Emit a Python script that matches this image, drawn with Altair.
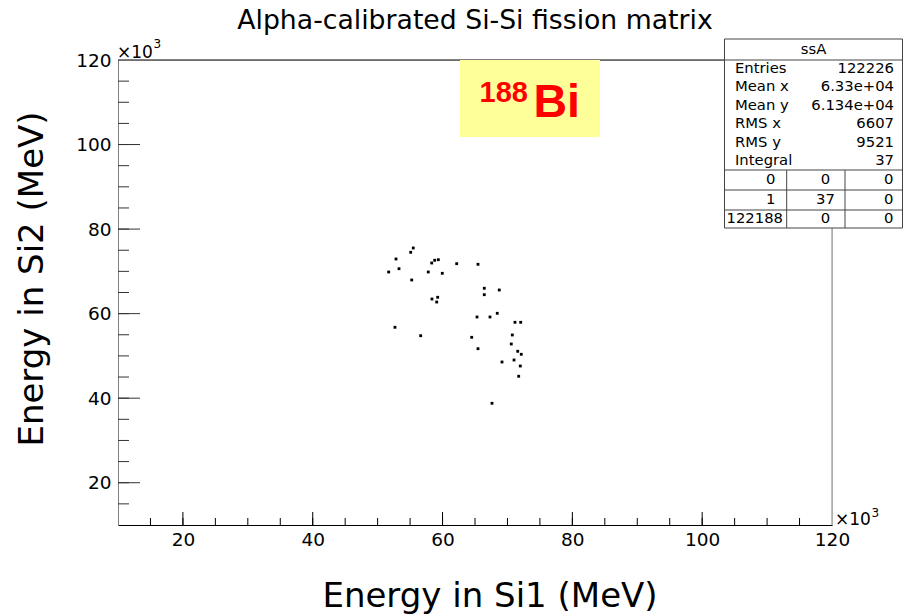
import altair as alt
import pandas as pd

# ---- data (x10^3 MeV) ----
x_si1 = [55.49, 55.09, 52.83, 53.29, 51.70, 55.25, 58.33, 58.79, 59.35, 57.80,
         59.96, 62.18, 65.46, 66.43, 66.43, 68.74, 58.37, 59.25, 59.10, 68.43,
         65.31, 67.31, 71.16, 72.04, 52.67, 56.63, 64.49, 70.75, 70.59, 65.46,
         71.58, 72.13, 69.16, 71.01, 71.98, 71.73, 67.62]
y_si2 = [75.53, 74.51, 72.93, 70.63, 69.85, 67.96, 71.98, 72.62, 72.76, 69.85,
         69.54, 71.82, 71.67, 66.00, 64.48, 65.59, 63.46, 63.87, 62.75, 60.08,
         59.21, 59.21, 57.95, 57.95, 56.77, 54.78, 54.40, 54.95, 52.82, 51.71,
         51.09, 50.38, 48.56, 49.03, 47.61, 45.18, 38.79]

major_ticks = [20, 40, 60, 80, 100, 120]
minor_ticks = [15, 20, 25, 30, 35, 40, 45, 50, 55, 60, 65, 70, 75, 80, 85, 90, 95, 100, 105, 110, 115]
long_ticks = [20, 40, 60, 80, 100]

stat_names = ["Entries", "Mean x", "Mean y", "RMS x", "RMS y", "Integral"]
stat_values = ["122226", "6.33e+04", "6.134e+04", "6607", "9521", "37"]
table_rows = [["0", "0", "0"], ["1", "37", "0"], ["122188", "0", "0"]]

title_text = "Alpha-calibrated Si-Si fission matrix"
x_title = "Energy in Si1 (MeV)"
y_title = "Energy in Si2 (MeV)"

F = "DejaVu Sans"
W, H = 714, 465

pts = pd.DataFrame({"x": x_si1, "y": y_si2})
one = pd.DataFrame({"k": [0]})
xs = alt.Scale(domain=[10, 120], nice=False, zero=False)
ys = alt.Scale(domain=[10, 120], nice=False, zero=False)

x_axis = alt.Axis(
    values=major_ticks, title=None, ticks=False, tickSize=0, grid=False,
    labelFont=F, labelFontSize=18.5, labelColor="black", labelPadding=5,
    labelFlush=False, labelOverlap=False, domainColor="black", domainWidth=1)
y_axis = alt.Axis(
    values=major_ticks, title=None, ticks=False, tickSize=0, grid=False,
    labelFont=F, labelFontSize=18.5, labelColor="black", labelPadding=7,
    labelFlush=False, labelOverlap=False, domainColor="#808080", domainWidth=1)


def txt(text, x, y, size, align="left", baseline="alphabetic", font=F,
        color="black", weight="normal", angle=0):
    return alt.Chart(one).mark_text(
        text=text, align=align, baseline=baseline, font=font, fontSize=size,
        color=color, fontWeight=weight, angle=angle
    ).encode(x=alt.value(x), y=alt.value(y))


def rule(x1, x2, y1, y2, color="black", w=1):
    return alt.Chart(one).mark_rule(color=color, strokeWidth=w).encode(
        x=alt.value(x1), x2=alt.value(x2), y=alt.value(y1), y2=alt.value(y2))


points = alt.Chart(pts).mark_square(size=8, color="black", opacity=1).encode(
    x=alt.X("x:Q", scale=xs, axis=x_axis),
    y=alt.Y("y:Q", scale=ys, axis=y_axis),
)

xminor = alt.Chart(pd.DataFrame({"v": minor_ticks})).mark_rule(color="black").encode(
    x=alt.X("v:Q", scale=xs, axis=x_axis), y=alt.value(H), y2=alt.value(H - 7))
xmajor = alt.Chart(pd.DataFrame({"v": long_ticks})).mark_rule(color="black").encode(
    x=alt.X("v:Q", scale=xs, axis=x_axis), y=alt.value(H), y2=alt.value(H - 13))
yminor = alt.Chart(pd.DataFrame({"v": minor_ticks})).mark_rule(color="#333333").encode(
    y=alt.Y("v:Q", scale=ys, axis=y_axis), x=alt.value(0), x2=alt.value(11))
ymajor = alt.Chart(pd.DataFrame({"v": long_ticks})).mark_rule(color="#333333").encode(
    y=alt.Y("v:Q", scale=ys, axis=y_axis), x=alt.value(0), x2=alt.value(22))

layers = [points, xminor, xmajor, yminor, ymajor,
          rule(0, W, 0, 0, "black"),
          rule(W, W, 0, H, "#808080")]

# yellow label box
layers.append(alt.Chart(one).mark_rect(fill="#FFFF99").encode(
    x=alt.value(342), x2=alt.value(482), y=alt.value(0), y2=alt.value(77)))
layers.append(txt("188", 361.5, 41.7, 29, font="Liberation Sans", color="#FF0000", weight="bold"))
layers.append(txt("Bi", 415.5, 56.7, 46.5, font="Liberation Sans", color="#FF0000", weight="bold"))

# stats box
bx0, bx1, by0, by1 = 606.5, 784.5, -21, 168
layers.append(alt.Chart(one).mark_rect(fill="white", stroke="#444444", strokeWidth=1).encode(
    x=alt.value(bx0), x2=alt.value(bx1), y=alt.value(by0), y2=alt.value(by1)))
layers.append(rule(bx0, bx1, 0, 0, "#444444"))
for yy in [110, 130, 150]:
    layers.append(rule(bx0, bx1, yy, yy, "#444444"))
layers.append(rule(668.7, 668.7, 110, by1, "#444444"))
layers.append(rule(727, 727, 110, by1, "#444444"))
layers.append(txt("ssA", (bx0 + bx1) / 2, -10.5, 14.8, align="center", baseline="middle"))
row_y = [8.5, 27, 45.5, 64, 82.5, 101]
for name, val, ry in zip(stat_names, stat_values, row_y):
    layers.append(txt(name, 617, ry, 14.8, baseline="middle"))
    layers.append(txt(val, 776, ry, 14.8, align="right", baseline="middle"))
tab_y = [120, 139.5, 159]
for row, ry in zip(table_rows, tab_y):
    c1, c2, c3 = row
    if len(c1) > 3:
        layers.append(txt(c1, 608.5, ry, 14.8, baseline="middle"))
    else:
        layers.append(txt(c1, 657.5, ry, 14.8, align="right", baseline="middle"))
    layers.append(txt(c2, 707.5, ry, 14.8, align="center", baseline="middle"))
    layers.append(txt(c3, 775.5, ry, 14.8, align="right", baseline="middle"))

# exponent labels
layers.append(txt("\u00d710", -1, -2, 17))
layers.append(txt("3", 35.5, -11.7, 12))
layers.append(txt("\u00d710", 717, 465, 17))
layers.append(txt("3", 753.5, 456.5, 12))

# titles
layers.append(txt(title_text, 357, -30.7, 26.7, align="center"))
layers.append(txt(x_title, 372, 547, 34, align="center"))
layers.append(txt(y_title, -75, 219, 34, align="center", angle=270))

chart = alt.layer(*layers).properties(
    width=W, height=H,
    padding={"left": 118, "top": 60, "right": 905 - 118 - W, "bottom": 616 - 60 - H},
    autosize=alt.AutoSizeParams(type="none"),
).configure_view(stroke=None).configure(background="white")

chart.save("out.html", embed_options={"renderer": "svg", "actions": False})
